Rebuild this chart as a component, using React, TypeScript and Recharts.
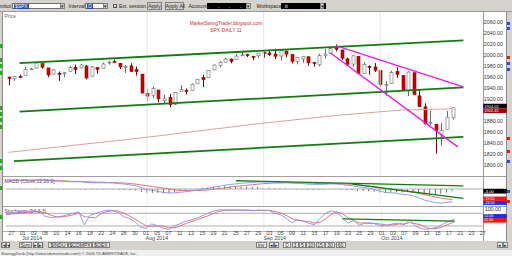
import React from 'react';
import { ComposedChart, Bar, Line, XAxis, YAxis, ReferenceLine } from 'recharts';

// ---------- categories (trading days + empty future slots) ----------
const dates = [
  '6/26', '6/27',
  '6/30', '7/1', '7/2', '7/3',
  '7/7', '7/8', '7/9', '7/10', '7/11',
  '7/14', '7/15', '7/16', '7/17', '7/18',
  '7/21', '7/22', '7/23', '7/24', '7/25',
  '7/28', '7/29', '7/30', '7/31', '8/1',
  '8/4', '8/5', '8/6', '8/7', '8/8',
  '8/11', '8/12', '8/13', '8/14', '8/15',
  '8/18', '8/19', '8/20', '8/21', '8/22',
  '8/25', '8/26', '8/27', '8/28', '8/29',
  '9/2', '9/3', '9/4', '9/5',
  '9/8', '9/9', '9/10', '9/11', '9/12',
  '9/15', '9/16', '9/17', '9/18', '9/19',
  '9/22', '9/23', '9/24', '9/25', '9/26',
  '9/29', '9/30', '10/1', '10/2', '10/3',
  '10/6', '10/7', '10/8', '10/9', '10/10',
  '10/13', '10/14', '10/15', '10/16', '10/17',
  '10/20',
  '10/21', '10/22', '10/23', '10/24', '10/27',
];

// ---------- SPX daily OHLC ----------
const opens = [
  1959.9, 1956.6,
  1960.8, 1962.3, 1973.1, 1975.9,
  1984.2, 1976.4, 1965.1, 1966.7, 1965.8,
  1969.9, 1977.4, 1976.4, 1979.8, 1961.5,
  1976.9, 1975.7, 1985.3, 1988.1, 1984.6,
  1978.3, 1980.0, 1973.2, 1965.1, 1929.8,
  1926.6, 1936.3, 1917.3, 1923.0, 1910.4,
  1933.4, 1935.7, 1935.6, 1947.4, 1958.9,
  1958.4, 1972.7, 1980.5, 1986.8, 1992.6,
  1991.7, 1998.6, 2000.5, 1997.4, 1998.5,
  2004.1, 2003.6, 2001.7, 1998.0,
  2007.2, 2000.7, 1988.4, 1992.9, 1996.7,
  1986.0, 1981.9, 1999.3, 2003.1, 2012.7,
  2009.1, 1992.8, 1983.3, 1997.3, 1966.2,
  1979.0, 1978.2, 1971.4, 1945.8, 1948.1,
  1970.0, 1962.4, 1935.6, 1967.7, 1925.6,
  1905.7, 1877.1, 1874.2, 1856.0, 1864.9,
  1885.6,
];
const highs = [
  1959.9, 1961.5,
  1964.2, 1978.6, 1976.7, 1985.6,
  1984.2, 1976.4, 1974.2, 1969.8, 1968.7,
  1979.9, 1982.5, 1983.9, 1981.8, 1979.9,
  1976.9, 1986.2, 1989.2, 1991.4, 1984.6,
  1981.5, 1984.9, 1978.9, 1965.1, 1937.4,
  1942.9, 1936.3, 1927.9, 1928.9, 1932.4,
  1944.9, 1939.2, 1948.4, 1955.2, 1964.0,
  1972.0, 1982.6, 1988.6, 1994.8, 1993.5,
  2002.0, 2005.0, 2002.1, 1998.6, 2003.4,
  2006.1, 2009.3, 2011.2, 2007.7,
  2007.2, 2001.0, 1996.7, 1997.7, 1996.7,
  1987.2, 2002.3, 2010.7, 2012.3, 2019.3,
  2009.1, 1995.4, 1999.8, 1997.3, 1986.4,
  1981.3, 1985.2, 1971.4, 1952.3, 1971.2,
  1977.8, 1962.4, 1970.4, 1967.7, 1937.0,
  1912.1, 1898.7, 1874.2, 1876.0, 1898.2,
  1905.0,
];
const lows = [
  1944.7, 1953.0,
  1958.2, 1962.3, 1972.6, 1975.9,
  1974.9, 1959.5, 1965.1, 1952.9, 1959.6,
  1969.9, 1965.3, 1975.7, 1955.6, 1960.8,
  1965.8, 1975.7, 1982.4, 1985.8, 1974.4,
  1967.3, 1969.9, 1962.4, 1930.7, 1916.4,
  1921.2, 1913.8, 1911.5, 1904.8, 1909.0,
  1933.4, 1928.3, 1935.6, 1947.4, 1941.5,
  1958.4, 1972.7, 1977.7, 1986.8, 1984.8,
  1991.7, 1998.6, 1996.2, 1990.5, 1994.7,
  1994.9, 1998.1, 1992.4, 1990.1,
  1995.6, 1984.6, 1983.0, 1985.9, 1980.3,
  1978.5, 1979.1, 1993.3, 2003.1, 2006.6,
  1991.0, 1982.8, 1978.6, 1966.0, 1966.2,
  1964.0, 1969.0, 1941.7, 1926.0, 1948.1,
  1958.4, 1935.1, 1925.3, 1927.6, 1906.1,
  1874.1, 1871.8, 1820.7, 1835.0, 1864.9,
  1882.3,
];
const closes = [
  1957.2, 1961.0,
  1960.2, 1973.3, 1974.6, 1985.4,
  1977.7, 1963.7, 1972.8, 1964.7, 1967.6,
  1977.1, 1973.3, 1981.6, 1958.1, 1978.2,
  1973.6, 1983.5, 1987.0, 1988.0, 1978.3,
  1978.9, 1970.0, 1970.1, 1930.7, 1925.2,
  1939.0, 1920.2, 1920.2, 1909.6, 1931.6,
  1936.9, 1933.8, 1946.7, 1955.2, 1955.1,
  1971.7, 1981.6, 1986.5, 1992.4, 1988.4,
  1997.9, 2000.0, 2000.1, 1996.7, 2003.4,
  2002.3, 2000.7, 1997.7, 2007.7,
  2001.5, 1988.4, 1995.7, 1997.5, 1985.5,
  1984.1, 1999.0, 2001.6, 2011.4, 2010.4,
  1994.3, 1982.8, 1998.3, 1966.0, 1982.9,
  1977.8, 1972.3, 1946.2, 1946.2, 1967.9,
  1964.8, 1935.1, 1968.9, 1928.2, 1906.1,
  1874.7, 1877.7, 1862.5, 1862.8, 1886.8,
  1904.0,
];

// 200-day moving average, read at a few days
const maDates = ['6/26', '7/30', '8/29', '9/19', '10/7', '10/20'];
const maValues = [1823, 1848, 1875, 1890, 1900, 1902];

// ---------- MACD (12,26,9) ----------
const macdValues = [
  16, 16, 16.5, 16.5, 16.5, 17, 16.5,
  15.5, 15, 14.5, 14, 13.5, 13.5, 13.5,
  12, 12, 11.5, 11.5, 11.5, 11, 10,
  9, 7.5, 6, 2,
  -1, -2.5, -4.5, -6.5, -7.5, -7,
  -6, -5, -3.5, -2, 0, 1.5,
  3.5, 5, 7, 8.5, 9.5, 10.5, 11.5, 12, 13,
  13, 13, 12.5, 12.5, 12, 11, 10.5, 10, 9, 8.5, 8.5, 9, 9.5, 9.5,
  8.5, 7, 6, 4, 3, 1.5, -1,
  -4, -6.5, -7, -8, -10, -10.5, -13, -16.5, -20.5, -23, -25.5, -26, -25, -23.5,
];
const signalValues = [
  15, 15.5, 15.5, 16, 16, 16, 16.5,
  16, 16, 15.5, 15, 14.5, 14, 14,
  13.5, 13, 12.5, 12.5, 12, 12, 11.5,
  11, 10, 9, 7.5,
  6, 4.5, 3, 1.5, 0, -1.5,
  -2.5, -3, -3, -3, -2.5, -1.5,
  -0.5, 0.5, 2, 3.5, 5, 6, 7, 8, 9,
  10, 10.5, 11, 11, 11.5, 11.5, 11.5, 11, 11, 10.5, 10, 10, 10, 10,
  9.5, 9, 8.5, 7.5, 6.5, 5.5, 4,
  2.5, 1, -0.5, -2, -3.5, -5, -6.5, -8.5, -10.5, -12.5, -15, -17, -18.5, -19.5,
];

// ---------- Stochastic (14,3,3) ----------
const stochK = [
  76, 80, 82, 85, 88, 92, 88,
  66, 60, 62, 66, 74, 80, 87,
  26, 70, 80, 88, 95, 93, 85,
  64, 56, 40, 14, 9, 30, 22,
  10, 4, 20, 30, 42, 48, 57,
  68, 80, 90, 96, 97, 94, 95,
  96, 95, 92, 95, 94, 93, 80,
  73, 56, 36, 50, 43, 33, 26,
  55, 80, 92, 85, 60, 33, 46,
  24, 33, 36, 28, 20, 24, 30,
  34, 26, 48, 20, 8, 4, 9,
  15, 31, 42, 52,
];
const stochD = [
  74, 77, 79, 82, 85, 88, 89,
  82, 72, 63, 63, 67, 73, 80,
  64, 61, 59, 79, 88, 92, 91,
  81, 68, 53, 37, 21, 18, 20,
  20, 12, 11, 18, 31, 40, 49,
  58, 68, 79, 89, 94, 96, 95,
  95, 95, 94, 94, 94, 94, 89,
  82, 70, 55, 47, 43, 42, 34,
  38, 54, 76, 86, 79, 59, 46,
  34, 34, 31, 32, 28, 24, 25,
  29, 30, 36, 31, 25, 11, 7,
  9, 18, 29, 42,
];

// ---------- drawn trend lines ----------
const channelFrom = ['6/30', '6/30', '6/27'];
const channelFromVal = [1985, 1897, 1807];
const channelTo = ['10/22', '10/22', '10/22'];
const channelToVal = [2026.5, 1941, 1851];
const wedgeFrom = ['9/19', '9/18'];
const wedgeFromVal = [2017, 2004];
const wedgeTo = ['10/22', '10/21'];
const wedgeToVal = [1942, 1833];
const macdTrendFrom = ['8/25', '9/24'];
const macdTrendFromVal = [15.3, 9];
const macdTrendTo = ['10/22', '10/22'];
const macdTrendToVal = [5.6, -17.4];
const stochTrendFrom = ['9/22'];
const stochTrendFromVal = [54];
const stochTrendTo = ['10/20'];
const stochTrendToVal = [43];

// ---------- axis labels (1900 is hidden behind the last-price boxes) ----------
const priceTicks = [1800, 1820, 1840, 1860, 1880, 1920, 1940, 1960, 1980, 2000, 2020, 2040, 2060];
const monthStarts = ['7/1', '8/1', '9/2', '10/1'];
const monthLabels = ['Jul 2014', 'Aug 2014', 'Sep 2014', 'Oct 2014'];
const monthSeparators = ['8/1', '9/2', '10/1'];
const priceBoxTexts = ['1904.01', '1902.45'];

const rows = dates.map((date, i) => {
  const mi = maDates.indexOf(date);
  const has = i < closes.length;
  return {
    date,
    o: has ? opens[i] : null,
    h: has ? highs[i] : null,
    l: has ? lows[i] : null,
    c: has ? closes[i] : null,
    ma: mi >= 0 ? maValues[mi] : null,
    macd: has ? macdValues[i] : null,
    signal: has ? signalValues[i] : null,
    hist: has ? macdValues[i] - signalValues[i] : null,
    k: has ? stochK[i] : null,
    d: has ? stochD[i] : null,
  };
});

const FONT = '"Liberation Sans", Arial, sans-serif';
const GREEN = '#127a12';
const MAGENTA = '#e020e0';
const BLUE = '#8c8cf0';
const RED = '#e06868';
const LEFT = 5.7;
const AXISW = 29.2;

function Candle(props: any) {
  const { x, y, width, height, payload } = props;
  if (!payload || payload.h == null) return null;
  const top = Math.min(y, y + height);
  const bot = Math.max(y, y + height);
  const span = payload.h - payload.l;
  const py = (v: number) => (span > 0 ? top + ((payload.h - v) / span) * (bot - top) : top);
  const cx = Math.round(x + width / 2) + 0.5;
  const up = payload.c >= payload.o;
  const yo = py(payload.o);
  const yc = py(payload.c);
  const bt = Math.min(yo, yc);
  const bh = Math.max(Math.abs(yo - yc), 0.9);
  return (
    <g>
      <line x1={cx} x2={cx} y1={top} y2={bot} stroke={up ? '#6a6a6a' : '#5a1010'} strokeWidth={1} />
      <rect x={cx - 1.5} y={bt} width={3} height={bh} fill={up ? '#ffffff' : '#c40000'} stroke={up ? '#6a6a6a' : '#8a0000'} strokeWidth={0.6} />
    </g>
  );
}

function PriceTick(props: any) {
  const { x, y, payload } = props;
  return (
    <text x={x} y={y} dominantBaseline="central" fontSize={5.3} fill="#333" fontFamily={FONT} textAnchor="start">
      {Number(payload.value).toFixed(2)}
    </text>
  );
}

function DateTick(props: any) {
  const { x, y, payload } = props;
  const i = dates.indexOf(payload.value);
  const showDay = i >= 1 && (i - 1) % 2 === 0;
  const day = String(payload.value).split('/')[1].padStart(2, '0');
  const mi = monthStarts.indexOf(payload.value);
  return (
    <g>
      {showDay && (
        <text x={x} y={y + 3.3} textAnchor="middle" dominantBaseline="central" fontSize={5.3} fill="#444" fontFamily={FONT}>
          {day}
        </text>
      )}
      {mi >= 0 && (
        <text x={x - 0.5} y={y + 8.2} textAnchor="start" dominantBaseline="central" fontSize={5.3} fill="#444" fontFamily={FONT}>
          {monthLabels[mi]}
        </text>
      )}
    </g>
  );
}

function boxLabel(items: { dy: number; h: number; fill: string; text: string; color: string }[], fs: number) {
  return (props: any) => {
    const vb = props.viewBox || {};
    const bx = (vb.x || 0) + (vb.width || 0) + 0.5;
    const by = vb.y || 0;
    return (
      <g>
        {items.map((it, k) => (
          <g key={k}>
            <rect x={bx} y={by + it.dy} width={23.5} height={it.h} fill={it.fill} />
            <text x={bx + 1} y={by + it.dy + it.h / 2} dominantBaseline="central" fontSize={fs} fill={it.color} fontFamily={FONT}>
              {it.text}
            </text>
          </g>
        ))}
      </g>
    );
  };
}

function StaticText(props: any) {
  const vb = props.viewBox || {};
  return (
    <text x={(vb.x || 0) + (vb.width || 0) + 2} y={vb.y || 0} dominantBaseline="central" fontSize={5.3} fill="#333" fontFamily={FONT}>
      {props.text}
    </text>
  );
}

const ui: React.CSSProperties = { position: 'absolute', fontFamily: FONT, fontSize: 5, lineHeight: '6px', color: '#222', whiteSpace: 'nowrap' };

function Btn({ left, top, w, h, children, bg }: any) {
  return (
    <div style={{ ...ui, left, top, width: w, height: h, background: bg || '#d6d3ce', border: '0.5px solid #808080', boxSizing: 'border-box', textAlign: 'center', lineHeight: `${h - 1}px` }}>
      {children}
    </div>
  );
}

export default function App() {
  const lastIdx = closes.length - 1;
  const lastClose = closes[lastIdx];
  const lastMacd = macdValues[lastIdx];
  const lastSignal = signalValues[lastIdx];
  const lastHist = lastMacd - lastSignal;
  const lastK = stochK[lastIdx];
  const lastD = stochD[lastIdx];

  return (
    <div style={{ position: 'absolute', left: 0, top: 0, width: 512, height: 256, overflow: 'hidden', background: '#ffffff', fontFamily: FONT }}>
      {/* toolbar */}
      <div style={{ position: 'absolute', left: 0, top: 0, width: 512, height: 11.5, background: '#d6d3ce', borderBottom: '1px solid #9a9a9a', boxSizing: 'border-box' }} />
      <div style={{ ...ui, left: 0, top: 3 }}>mbol:</div>
      <div style={{ ...ui, left: 11.7, top: 2.8, width: 53.5, height: 6.5, background: '#fff', border: '0.5px solid #707070', boxSizing: 'border-box' }}>
        <span style={{ position: 'absolute', left: 1.2, top: 0.5, background: '#2a4fa6', color: '#fff', padding: '0 1px', lineHeight: '5px' }}>$SPX</span>
      </div>
      <Btn left={59.5} top={3.3} w={5.2} h={5.6}>▾</Btn>
      <div style={{ ...ui, left: 68.5, top: 3 }}>Interval</div>
      <div style={{ ...ui, left: 85, top: 2.8, width: 23, height: 6.5, background: '#fff', border: '0.5px solid #707070', boxSizing: 'border-box' }}>
        <span style={{ position: 'absolute', left: 1.2, top: 0.5, background: '#2a4fa6', color: '#fff', padding: '0 1px', lineHeight: '5px' }}>D</span>
      </div>
      <Btn left={102.5} top={3.3} w={5.2} h={5.6}>▾</Btn>
      <div style={{ ...ui, left: 113, top: 3.6, width: 4, height: 4, border: '0.5px solid #555', background: '#fff', boxSizing: 'border-box', fontSize: 4, lineHeight: '4px', textAlign: 'center' }}>✓</div>
      <div style={{ ...ui, left: 119, top: 3 }}>Ext. session</div>
      <Btn left={146.7} top={2.3} w={15.5} h={7.5}>Apply</Btn>
      <Btn left={164.8} top={2.3} w={18.8} h={7.5}>Apply All</Btn>
      <div style={{ ...ui, left: 188.5, top: 3 }}>Account:</div>
      <div style={{ ...ui, left: 206.7, top: 2.8, width: 39, height: 6.5, background: '#000', color: '#fff', textAlign: 'center', letterSpacing: 4 }}>. . . .</div>
      <Btn left={245.5} top={3.3} w={5.2} h={5.6}>▾</Btn>
      <div style={{ ...ui, left: 256.5, top: 3 }}>Workspace:</div>
      <div style={{ ...ui, left: 281, top: 2.8, width: 41, height: 6.5, background: '#000', color: '#fff', paddingLeft: 4 }}>ti</div>
      <Btn left={319.5} top={3.3} w={4.5} h={5.6}>▾</Btn>

      {/* side strips */}
      <div style={{ position: 'absolute', left: 0, top: 11.5, width: 3, height: 229, background: '#d6d3ce', borderRight: '0.5px solid #8a8a8a', boxSizing: 'border-box' }} />
      {[44, 58, 64, 71, 106, 112, 118, 125, 159, 166, 186, 215].map((t, k) => (
        <div key={k} style={{ position: 'absolute', left: 0, top: t, width: 2, height: 3.5, background: k % 3 === 1 ? '#3a9a3a' : '#22b022' }} />
      ))}
      <div style={{ position: 'absolute', left: 505.5, top: 11.5, width: 6.5, height: 229, background: '#d6d3ce', borderLeft: '0.5px solid #8a8a8a', boxSizing: 'border-box' }} />
      {[[22, '#3050c0'], [27, '#3050c0'], [56, '#d02020'], [62, '#3050c0'], [68, '#3050c0'], [137, '#d02020'], [150, '#d02020'], [160, '#3050c0'], [190, '#3050c0'], [200, '#d02020']].map(([t, c]: any, k) => (
        <div key={k} style={{ position: 'absolute', left: 507, top: t, width: 3, height: 2.5, background: c }} />
      ))}

      {/* panel frames */}
      <div style={{ position: 'absolute', left: 3, top: 176, width: 502.5, height: 0.8, background: '#a0a0a0' }} />
      <div style={{ position: 'absolute', left: 3, top: 206, width: 502.5, height: 0.8, background: '#a0a0a0' }} />
      <div style={{ position: 'absolute', left: 3, top: 230.5, width: 480, height: 0.6, background: '#b0b0b0' }} />
      <div style={{ position: 'absolute', left: 482.6, top: 11.5, width: 0.8, height: 229, background: '#9a9a9a' }} />

      {/* panel titles */}
      <div style={{ ...ui, left: 4.5, top: 12.5, color: '#666' }}>Price</div>
      <div style={{ ...ui, left: 166, top: 20.8, color: '#c83030', fontSize: 4.9, width: 120, textAlign: 'center' }}>MarketSwingTrader.blogspot.com</div>
      <div style={{ ...ui, left: 166, top: 27.6, color: '#c83030', fontSize: 4.9, width: 120, textAlign: 'center' }}>SPX-DAILY 11</div>
      <div style={{ ...ui, left: 4.5, top: 177.5, color: '#5a3a5a' }}>MACD (Close,12,26,9)</div>
      <div style={{ ...ui, left: 4.5, top: 207.5, color: '#5a3a5a' }}>Stochastic (14,3,3)</div>

      {/* main price chart */}
      <div style={{ position: 'absolute', left: 0, top: 12 }}>
        <ComposedChart width={512} height={164} data={rows} margin={{ top: 0, right: 0, bottom: 0, left: LEFT }}>
          <XAxis dataKey="date" hide />
          <YAxis orientation="right" width={AXISW} type="number" domain={[1780, 2078]} allowDataOverflow ticks={priceTicks} tick={PriceTick} axisLine={false} tickLine={false} tickSize={0} tickMargin={1} interval={0} />
          {monthSeparators.map((m) => (
            <ReferenceLine key={m} x={m} stroke="#e6e6e6" strokeWidth={1} />
          ))}
          <Line dataKey="ma" connectNulls dot={false} stroke="#d7a3a3" strokeWidth={1} isAnimationActive={false} />
          <Bar dataKey={(d: any) => (d.h == null ? null : [d.l, d.h])} barSize={4} shape={Candle} isAnimationActive={false} />
          {channelFrom.map((f, k) => (
            <ReferenceLine key={'ch' + k} segment={[{ x: f, y: channelFromVal[k] }, { x: channelTo[k], y: channelToVal[k] }]} stroke={GREEN} strokeWidth={1.8} ifOverflow="visible" />
          ))}
          {wedgeFrom.map((f, k) => (
            <ReferenceLine key={'wd' + k} segment={[{ x: f, y: wedgeFromVal[k] }, { x: wedgeTo[k], y: wedgeToVal[k] }]} stroke={MAGENTA} strokeWidth={1.4} ifOverflow="visible" />
          ))}
          <ReferenceLine
            y={lastClose}
            stroke="none"
            label={boxLabel([
              { dy: -4, h: 4.6, fill: '#000000', text: priceBoxTexts[0], color: '#ffffff' },
              { dy: 0.6, h: 4.6, fill: '#9a0000', text: priceBoxTexts[1], color: '#ffffff' },
            ], 4)}
          />
        </ComposedChart>
      </div>

      {/* MACD panel */}
      <div style={{ position: 'absolute', left: 0, top: 177 }}>
        <ComposedChart width={512} height={28} data={rows} margin={{ top: 0, right: AXISW, bottom: 0, left: LEFT }}>
          <XAxis dataKey="date" hide />
          <YAxis hide type="number" domain={[-29.6, 22.2]} allowDataOverflow />
          {monthSeparators.map((m) => (
            <ReferenceLine key={m} x={m} stroke="#ececec" strokeWidth={1} />
          ))}
          <ReferenceLine y={0} stroke="#9a9a9a" strokeWidth={0.8} />
          <Bar dataKey="hist" fill="#505050" barSize={0.8} isAnimationActive={false} />
          <Line dataKey="signal" dot={false} stroke={RED} strokeWidth={0.9} isAnimationActive={false} />
          <Line dataKey="macd" dot={false} stroke={BLUE} strokeWidth={0.9} isAnimationActive={false} />
          {macdTrendFrom.map((f, k) => (
            <ReferenceLine key={'mt' + k} segment={[{ x: f, y: macdTrendFromVal[k] }, { x: macdTrendTo[k], y: macdTrendToVal[k] }]} stroke={GREEN} strokeWidth={1.3} ifOverflow="visible" />
          ))}
          <ReferenceLine y={lastHist} stroke="none" label={boxLabel([{ dy: -2.4, h: 4.8, fill: '#000000', text: lastHist.toFixed(2), color: '#ffffff' }], 4.2)} />
          <ReferenceLine
            y={lastSignal}
            stroke="none"
            label={boxLabel([
              { dy: -3, h: 4.4, fill: '#e81818', text: lastSignal.toFixed(2), color: '#ffffff' },
              { dy: 1.4, h: 4, fill: '#2030e0', text: lastMacd.toFixed(2), color: '#ffffff' },
            ], 3.6)}
          />
        </ComposedChart>
      </div>

      {/* Stochastic panel + date axis */}
      <div style={{ position: 'absolute', left: 0, top: 207 }}>
        <ComposedChart width={512} height={35.2} data={rows} margin={{ top: 2.1, right: AXISW, bottom: 0, left: LEFT }}>
          <XAxis dataKey="date" height={12} interval={0} tick={DateTick} axisLine={false} tickLine={false} tickSize={0} tickMargin={0} />
          <YAxis hide type="number" domain={[0, 100]} allowDataOverflow />
          {monthSeparators.map((m) => (
            <ReferenceLine key={m} x={m} stroke="#ececec" strokeWidth={1} />
          ))}
          <ReferenceLine y={80} stroke="#9a9a9a" strokeWidth={0.8} />
          <ReferenceLine y={20} stroke="#9a9a9a" strokeWidth={0.8} />
          <ReferenceLine y={100} stroke="none" label={(p: any) => <StaticText {...p} text="100.00" />} />
          <Line dataKey="d" dot={false} stroke={RED} strokeWidth={0.9} isAnimationActive={false} />
          <Line dataKey="k" dot={false} stroke={BLUE} strokeWidth={0.9} isAnimationActive={false} />
          {stochTrendFrom.map((f, k) => (
            <ReferenceLine key={'st' + k} segment={[{ x: f, y: stochTrendFromVal[k] }, { x: stochTrendTo[k], y: stochTrendToVal[k] }]} stroke={GREEN} strokeWidth={1.3} ifOverflow="visible" />
          ))}
          <ReferenceLine
            y={lastK}
            stroke="none"
            label={boxLabel([
              { dy: -5.2, h: 4, fill: '#2030e0', text: lastK.toFixed(2), color: '#ffffff' },
              { dy: -1.2, h: 4.6, fill: '#e81818', text: lastD.toFixed(2), color: '#ffffff' },
            ], 3.6)}
          />
        </ComposedChart>
      </div>

      {/* tabs row */}
      <div style={{ position: 'absolute', left: 0, top: 240.5, width: 512, height: 9.5, background: '#d6d3ce' }} />
      <Btn left={1} top={241.5} w={4.5} h={6.5} bg="#ececec">|◂</Btn>
      <Btn left={5.5} top={241.5} w={4.5} h={6.5} bg="#ececec">◂</Btn>
      <Btn left={19} top={241.5} w={13} h={6.5} bg="#ececec">Sym</Btn>
      <Btn left={33} top={241.5} w={4.5} h={6.5} bg="#ececec">▸</Btn>
      <Btn left={38} top={241.5} w={4.5} h={6.5} bg="#ececec">▸|</Btn>
      <Btn left={48} top={241.5} w={20} h={6.5} bg="#ececec">$INDU</Btn>
      <Btn left={68} top={241.5} w={24} h={6.5} bg="#ececec">$COMPX</Btn>
      <Btn left={92} top={241.5} w={18} h={6.5} bg="#ececec">$OEX</Btn>
      <Btn left={255.5} top={241.5} w={11} h={6.5} bg="#ececec">Inv</Btn>
      <Btn left={268.5} top={241.5} w={5} h={6.5} bg="#ececec">◂</Btn>
      <Btn left={274} top={241.5} w={5} h={6.5} bg="#ececec">▸</Btn>
      <Btn left={283} top={241.5} w={8} h={6.5} bg="#ffffff">D</Btn>
      <Btn left={291.5} top={241.5} w={7} h={6.5} bg="#ececec">3</Btn>
      <Btn left={299} top={241.5} w={7} h={6.5} bg="#ececec">5</Btn>
      <Btn left={306} top={241.5} w={9} h={6.5} bg="#ececec">10</Btn>
      <Btn left={315.5} top={241.5} w={9} h={6.5} bg="#ececec">15</Btn>
      <Btn left={325} top={241.5} w={10} h={6.5} bg="#ececec">30</Btn>
      <Btn left={335.5} top={241.5} w={10} h={6.5} bg="#ececec">60</Btn>
      <Btn left={497} top={242} w={5.5} h={6} bg="#ececec">◂</Btn>
      <Btn left={502.5} top={242} w={5.5} h={6} bg="#ececec">▸</Btn>

      {/* footer */}
      <div style={{ position: 'absolute', left: 0, top: 250, width: 512, height: 6, background: '#efefef' }} />
      <div style={{ ...ui, left: 1, top: 250.5, fontSize: 4, lineHeight: '5px', color: '#444' }}>
        StrategyDesk (http://www.tdameritrade.com/) © 2006 TD AMERITRADE, Inc.
      </div>
    </div>
  );
}
